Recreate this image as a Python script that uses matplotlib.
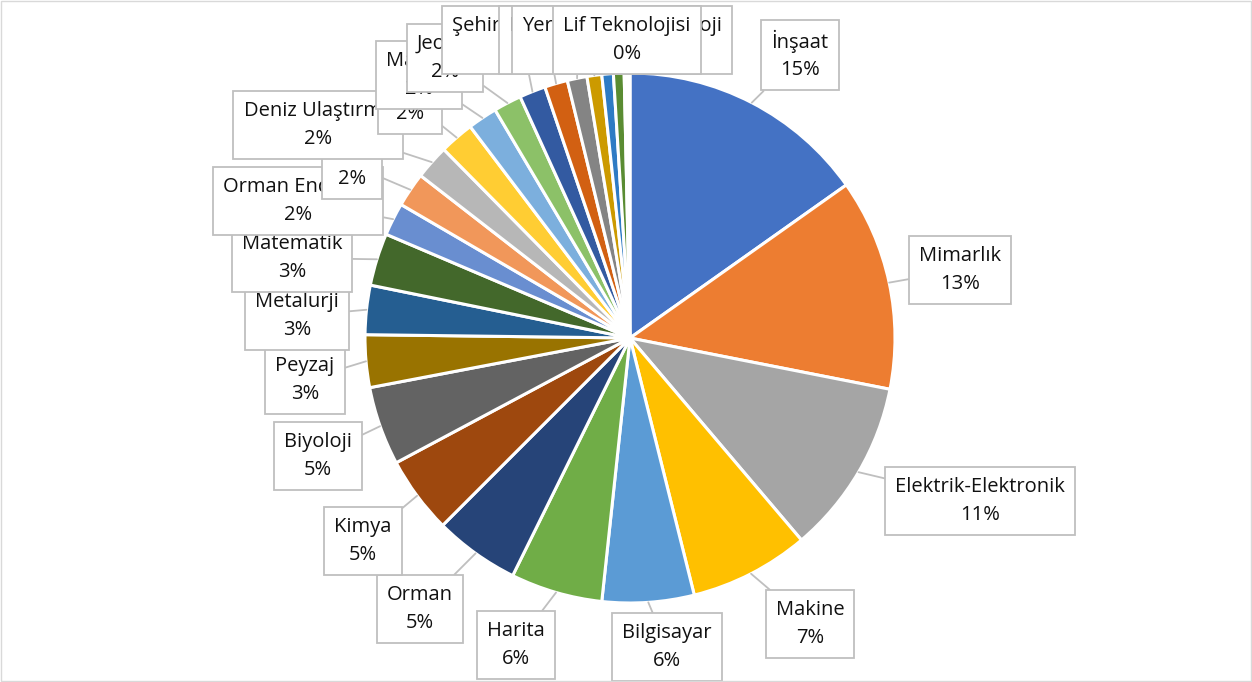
import numpy as np
import matplotlib.pyplot as plt
from matplotlib.patches import Rectangle

plt.rcParams['font.family'] = ['Open Sans', 'DejaVu Sans']

departments = ['İnşaat', 'Mimarlık', 'Elektrik-Elektronik', 'Makine', 'Bilgisayar',
               'Harita', 'Orman', 'Kimya', 'Biyoloji', 'Peyzaj', 'Metalurji',
               'Matematik', 'Orman Endüstri', 'Fizik', 'Deniz Ulaştırma', 'Gıda',
               'Maden', 'Jeoloji', 'Şehir Planlama', 'Endüstri', 'Yer Bilimleri',
               'Tekstil', 'Malzeme', 'Meteoroloji', 'Lif Teknolojisi']
shares = [15.2, 12.9, 10.7, 7.3, 5.6,
          5.6, 5.2, 4.7, 4.8, 3.2, 3.0,
          3.2, 2.0, 2.1, 2.1, 2.1,
          1.8, 1.7, 1.6, 1.4, 1.2,
          0.9, 0.7, 0.65, 0.35]
colors = ['#4472C4', '#ED7D31', '#A5A5A5', '#FFC000', '#5B9BD5', '#70AD47',
          '#264478', '#9E480E', '#636363', '#997300', '#255E91', '#43682B',
          '#698ED0', '#F1975A', '#B7B7B7', '#FFCD33', '#7CAFDD', '#8CC168',
          '#335AA1', '#D26012', '#848484', '#CC9A00', '#2E7BC4', '#5A8C32',
          '#FFFFFF']

# label box centres in pixels, measured from the top-left corner
label_xy = [(800, 55), (960, 270), (980, 501), (810, 624), (667, 647),
            (516, 645), (420, 609), (363, 541), (318, 456), (305, 380),
            (297, 316), (292, 258), (298, 201), (352, 165), (318, 125),
            (410, 100), (419, 75), (445, 58), (522, 40), (548, 40),
            (578, 40), (600, 40), (640, 40), (668, 40), (627, 40)]

W, H = 1252, 682
cx, cy, r = 630, H - 338, 265

fig = plt.figure(figsize=(W / 100, H / 100), dpi=100)
ax = fig.add_axes([0, 0, 1, 1])
wedges, _ = ax.pie(shares, colors=colors, startangle=90, counterclock=False,
                   center=(cx, cy), radius=r,
                   wedgeprops=dict(edgecolor='white', linewidth=2.2))
ax.set_xlim(0, W)
ax.set_ylim(0, H)
ax.set_aspect('equal')
ax.axis('off')

total = sum(shares)
for i, w in enumerate(wedges):
    ang = np.deg2rad((w.theta1 + w.theta2) / 2)
    px, py = cx + r * np.cos(ang), cy + r * np.sin(ang)
    pct = int(round(shares[i] / total * 100))
    lx, ly = label_xy[i]
    ax.annotate(f"{departments[i]}\n{pct}%", xy=(px, py), xytext=(lx, H - ly),
                ha='center', va='center', fontsize=14.5, linespacing=1.5,
                color='#111111',
                bbox=dict(boxstyle='square,pad=0.5', fc='white', ec='#BFBFBF', lw=1.3),
                arrowprops=dict(arrowstyle='-', color='#BFBFBF', lw=1.3,
                                shrinkA=0, shrinkB=0),
                zorder=3 + i)

ax.add_patch(Rectangle((1, 1), W - 2, H - 2, fill=False, ec='#D9D9D9', lw=1,
                       zorder=50))

fig.savefig('out.png', dpi=100)
